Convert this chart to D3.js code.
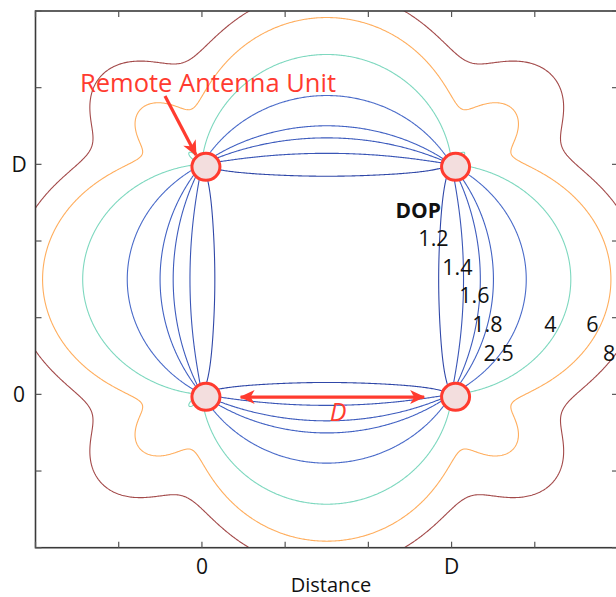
<!DOCTYPE html>
<html><head><meta charset="utf-8">
<script src="https://cdn.jsdelivr.net/npm/d3@7"></script>
<style>body{margin:0;background:#fff} svg{display:block} text{font-family:"Open Sans",sans-serif}</style>
</head><body><svg id="c" width="616" height="597"></svg>
<script>
// ---- data ----
const antennaX = [0, 1, 0, 1];
const antennaY = [0, 0, 1, 1];
const dopLevels = [1.2, 1.4, 1.6, 1.8, 2.5, 4, 6, 8];
const levelColors = ["#3048a8", "#3a56b6", "#3e5cbd", "#4262c3", "#4a6bc9", "#7ed8bf", "#ffae5e", "#a34a4a"];
const levelLabels = ["1.2", "1.4", "1.6", "1.8", "2.5", "4", "6", "8"];
const labelX = [0.867, 0.963, 1.031, 1.083, 1.128, 1.371, 1.539, 1.607];
const labelY = [0.644, 0.517, 0.397, 0.270, 0.144, 0.270, 0.270, 0.144];
const tickValues = [-2/3, -1/3, 0, 1/3, 2/3, 1, 4/3, 5/3];
const tickLabelValues = [0, 1];
const tickLabels = ["0", "D"];
const domain = [-2/3, 5/3];

// ---- layout ----
const svg = d3.select("#c");
const X0 = 35.5, X1 = 618, Y0 = 11, Y1 = 547.7;
const x = d3.scaleLinear(domain, [X0, X1]);
const y = d3.scaleLinear(domain, [Y1, Y0]);
const red = "#ff3b2f";

// ---- DOP field (2D position + clock bias), grid symmetric about the antennas ----
const perD = 210, k0 = 150, n = k0 * 2 + perD;
const step = 1 / perD, g0 = -k0 / perD;
const values = new Float64Array(n * n);
for (let j = 0; j < n; j++) {
  const py = g0 + (j + 0.5) * step;
  for (let i = 0; i < n; i++) {
    const px = g0 + (i + 0.5) * step;
    let sxx = 0, syy = 0, sxy = 0, sx = 0, sy = 0, N = antennaX.length;
    for (let k = 0; k < N; k++) {
      const dx = antennaX[k] - px, dy = antennaY[k] - py, r = Math.hypot(dx, dy);
      const ux = dx / r, uy = dy / r;
      sxx += ux * ux; syy += uy * uy; sxy += ux * uy; sx += ux; sy += uy;
    }
    const c00 = syy * N - sy * sy, c11 = sxx * N - sx * sx;
    const det = sxx * (syy * N - sy * sy) - sxy * (sxy * N - sy * sx) + sx * (sxy * sy - syy * sx);
    let v = Math.sqrt((c00 + c11) / det);
    if (!isFinite(v)) v = 100;
    values[j * n + i] = Math.min(v, 100);
  }
}
const contours = d3.contours().size([n, n]).thresholds(dopLevels)(values);
const proj = d3.geoTransform({
  point(gx, gy) { this.stream.point(x(g0 + gx * step), y(g0 + gy * step)); }
});
const path = d3.geoPath(proj);

svg.append("clipPath").attr("id", "clip").append("rect")
  .attr("x", X0).attr("y", Y0).attr("width", X1 - X0).attr("height", Y1 - Y0);

svg.append("g").attr("clip-path", "url(#clip)")
  .selectAll("path").data(contours).join("path")
  .attr("d", path)
  .attr("fill", "none")
  .attr("stroke", (d, i) => levelColors[i])
  .attr("stroke-width", 1.1);

// ---- frame & ticks ----
svg.append("rect").attr("x", X0).attr("y", Y0).attr("width", X1 - X0).attr("height", Y1 - Y0)
  .attr("fill", "none").attr("stroke", "#3a3a3a").attr("stroke-width", 1.6);
const tk = svg.append("g").attr("stroke", "#555").attr("stroke-width", 1.2);
tickValues.forEach(t => {
  tk.append("line").attr("x1", x(t)).attr("x2", x(t)).attr("y1", Y1).attr("y2", Y1 - 6);
  tk.append("line").attr("x1", x(t)).attr("x2", x(t)).attr("y1", Y0).attr("y2", Y0 + 6);
  tk.append("line").attr("y1", y(t)).attr("y2", y(t)).attr("x1", X0).attr("x2", X0 + 6);
  tk.append("line").attr("y1", y(t)).attr("y2", y(t)).attr("x1", X1).attr("x2", X1 - 6);
});
tickLabelValues.forEach((t, i) => {
  svg.append("text").attr("x", x(t)).attr("y", 574).attr("text-anchor", "middle")
    .attr("font-size", 21).attr("fill", "#111").text(tickLabels[i]);
  svg.append("text").attr("x", 19).attr("y", y(t) + 8).attr("text-anchor", "middle")
    .attr("font-size", 21).attr("fill", "#111").text(tickLabels[i]);
});
svg.append("text").attr("x", 331).attr("y", 592).attr("text-anchor", "middle")
  .attr("font-size", 20).attr("fill", "#111").text("Distance");

// ---- level labels ----
svg.append("text").attr("x", x(0.775)).attr("y", y(0.766)).attr("font-size", 21)
  .attr("font-weight", "bold").attr("fill", "#111").text("DOP");
levelLabels.forEach((s, i) => {
  svg.append("text").attr("x", x(labelX[i])).attr("y", y(labelY[i]))
    .attr("font-size", 21.5).attr("fill", "#111").text(s);
});

// ---- annotations ----
const defs = svg.append("defs");
defs.append("marker").attr("id", "ah").attr("viewBox", "-16 -8 18 16")
  .attr("refX", 0).attr("refY", 0).attr("markerWidth", 18).attr("markerHeight", 16)
  .attr("markerUnits", "userSpaceOnUse").attr("orient", "auto-start-reverse")
  .append("path").attr("d", "M1,0 L-14,-7 L-10,0 L-14,7 Z").attr("fill", red);

svg.append("line").attr("x1", x(0.155)).attr("x2", x(0.89)).attr("y1", y(-0.012)).attr("y2", y(-0.012))
  .attr("stroke", red).attr("stroke-width", 3.2)
  .attr("marker-start", "url(#ah)").attr("marker-end", "url(#ah)");
svg.append("text").attr("x", x(0.545)).attr("y", 421).attr("text-anchor", "middle")
  .attr("font-size", 25).attr("font-style", "italic").attr("fill", red).text("D");

const mdx = 4, mdy = 2.5;
antennaX.forEach((ax, k) => {
  svg.append("ellipse").attr("cx", x(ax) + mdx).attr("cy", y(antennaY[k]) + mdy)
    .attr("rx", 14).attr("ry", 13.5).attr("fill", "#f3dede").attr("stroke", red).attr("stroke-width", 3);
});

svg.append("line").attr("x1", 165).attr("y1", 96).attr("x2", 196).attr("y2", 155)
  .attr("stroke", red).attr("stroke-width", 3.2).attr("marker-end", "url(#ah)");
svg.append("text").attr("x", 80).attr("y", 92).attr("font-size", 25.5).attr("fill", red)
  .text("Remote Antenna Unit");
</script></body></html>
